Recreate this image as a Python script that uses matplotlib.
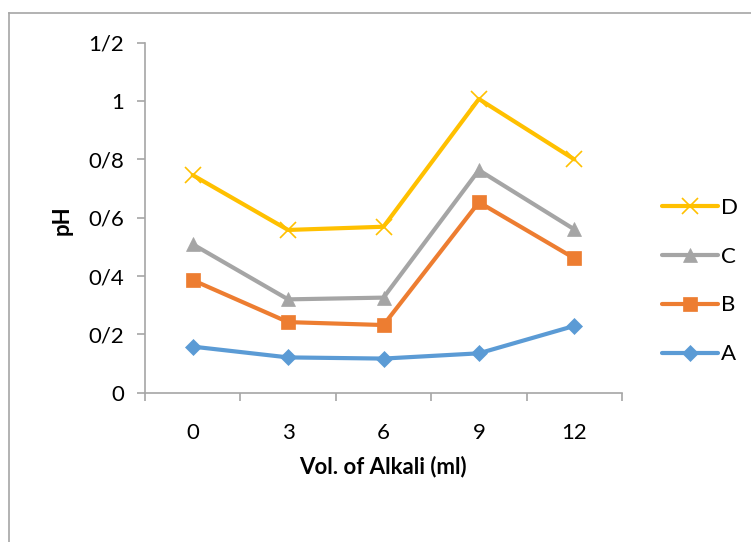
import matplotlib
matplotlib.use("Agg")
import matplotlib.pyplot as plt
from matplotlib.lines import Line2D

plt.rcParams['font.family'] = ['Lato', 'DejaVu Sans']

volumes = ["0", "3", "6", "9", "12"]
series_a = [0.158, 0.121, 0.117, 0.135, 0.229]
series_b = [0.386, 0.242, 0.232, 0.653, 0.461]
series_c = [0.509, 0.320, 0.326, 0.763, 0.560]
series_d = [0.746, 0.558, 0.569, 1.007, 0.800]
y_ticks = [0, 0.2, 0.4, 0.6, 0.8, 1.0, 1.2]
y_tick_labels = ["0", "0/2", "0/4", "0/6", "0/8", "1", "1/2"]

W, H = 751, 542
fig = plt.figure(figsize=(W / 100, H / 100), dpi=100)
ax = fig.add_axes([145 / W, 1 - 392.7 / H, (622 - 145) / W, (392.7 - 42.7) / H])

xs = list(range(len(volumes)))
styles = [
    ("A", series_a, "#5b9bd5", "D", 8),
    ("B", series_b, "#ed7d31", "s", 10),
    ("C", series_c, "#a5a5a5", "^", 10),
    ("D", series_d, "#ffc000", "x", 11),
]
for name, vals, col, mk, ms in styles:
    ax.plot(xs, vals, color=col, lw=3, marker=mk, markersize=ms,
            markeredgewidth=1.2 if mk == "x" else 0.5, markeredgecolor=col,
            markerfacecolor=col, label=name, solid_capstyle="round")

ax.set_xlim(-0.5, len(volumes) - 0.5)
ax.set_ylim(0, 1.2)
ax.set_yticks(y_ticks)
ax.set_yticklabels(y_tick_labels)
ax.set_xticks(xs)
ax.set_xticklabels(volumes)
ax.set_xticks([i - 0.5 for i in range(len(volumes) + 1)], minor=True)
ax.tick_params(axis="x", which="major", length=0, pad=22, labelsize=16)
ax.tick_params(axis="x", which="minor", length=6, width=1.2, color="#a6a6a6")
ax.tick_params(axis="y", length=6, width=1.2, color="#a6a6a6", pad=9, labelsize=16)
for s in ("top", "right"):
    ax.spines[s].set_visible(False)
for s in ("left", "bottom"):
    ax.spines[s].set_color("#a6a6a6")
    ax.spines[s].set_linewidth(1.2)

fig.text(383 / W, 1 - 467 / H, "Vol. of Alkali (ml)", ha="center", va="center",
         fontsize=16, fontweight="bold")
fig.text(62 / W, 1 - 220 / H, "pH", ha="center", va="center", rotation=90,
         fontsize=16, fontweight="bold")

handles, labels = ax.get_legend_handles_labels()
fig.legend(handles[::-1], labels[::-1], loc="center left",
           bbox_to_anchor=(651 / W, 1 - 281 / H), frameon=False, fontsize=16,
           handlelength=2.5, labelspacing=1.3, handletextpad=0.15, borderpad=0)

# chart-area frame along the top and left edges
fig.add_artist(Line2D([8.5 / W, 8.5 / W], [0, 1 - 13 / H], transform=fig.transFigure,
                      color="#a6a6a6", lw=1.2))
fig.add_artist(Line2D([8.5 / W, 1], [1 - 13 / H, 1 - 13 / H], transform=fig.transFigure,
                      color="#a6a6a6", lw=1.2))

fig.savefig("out.png", dpi=100)
